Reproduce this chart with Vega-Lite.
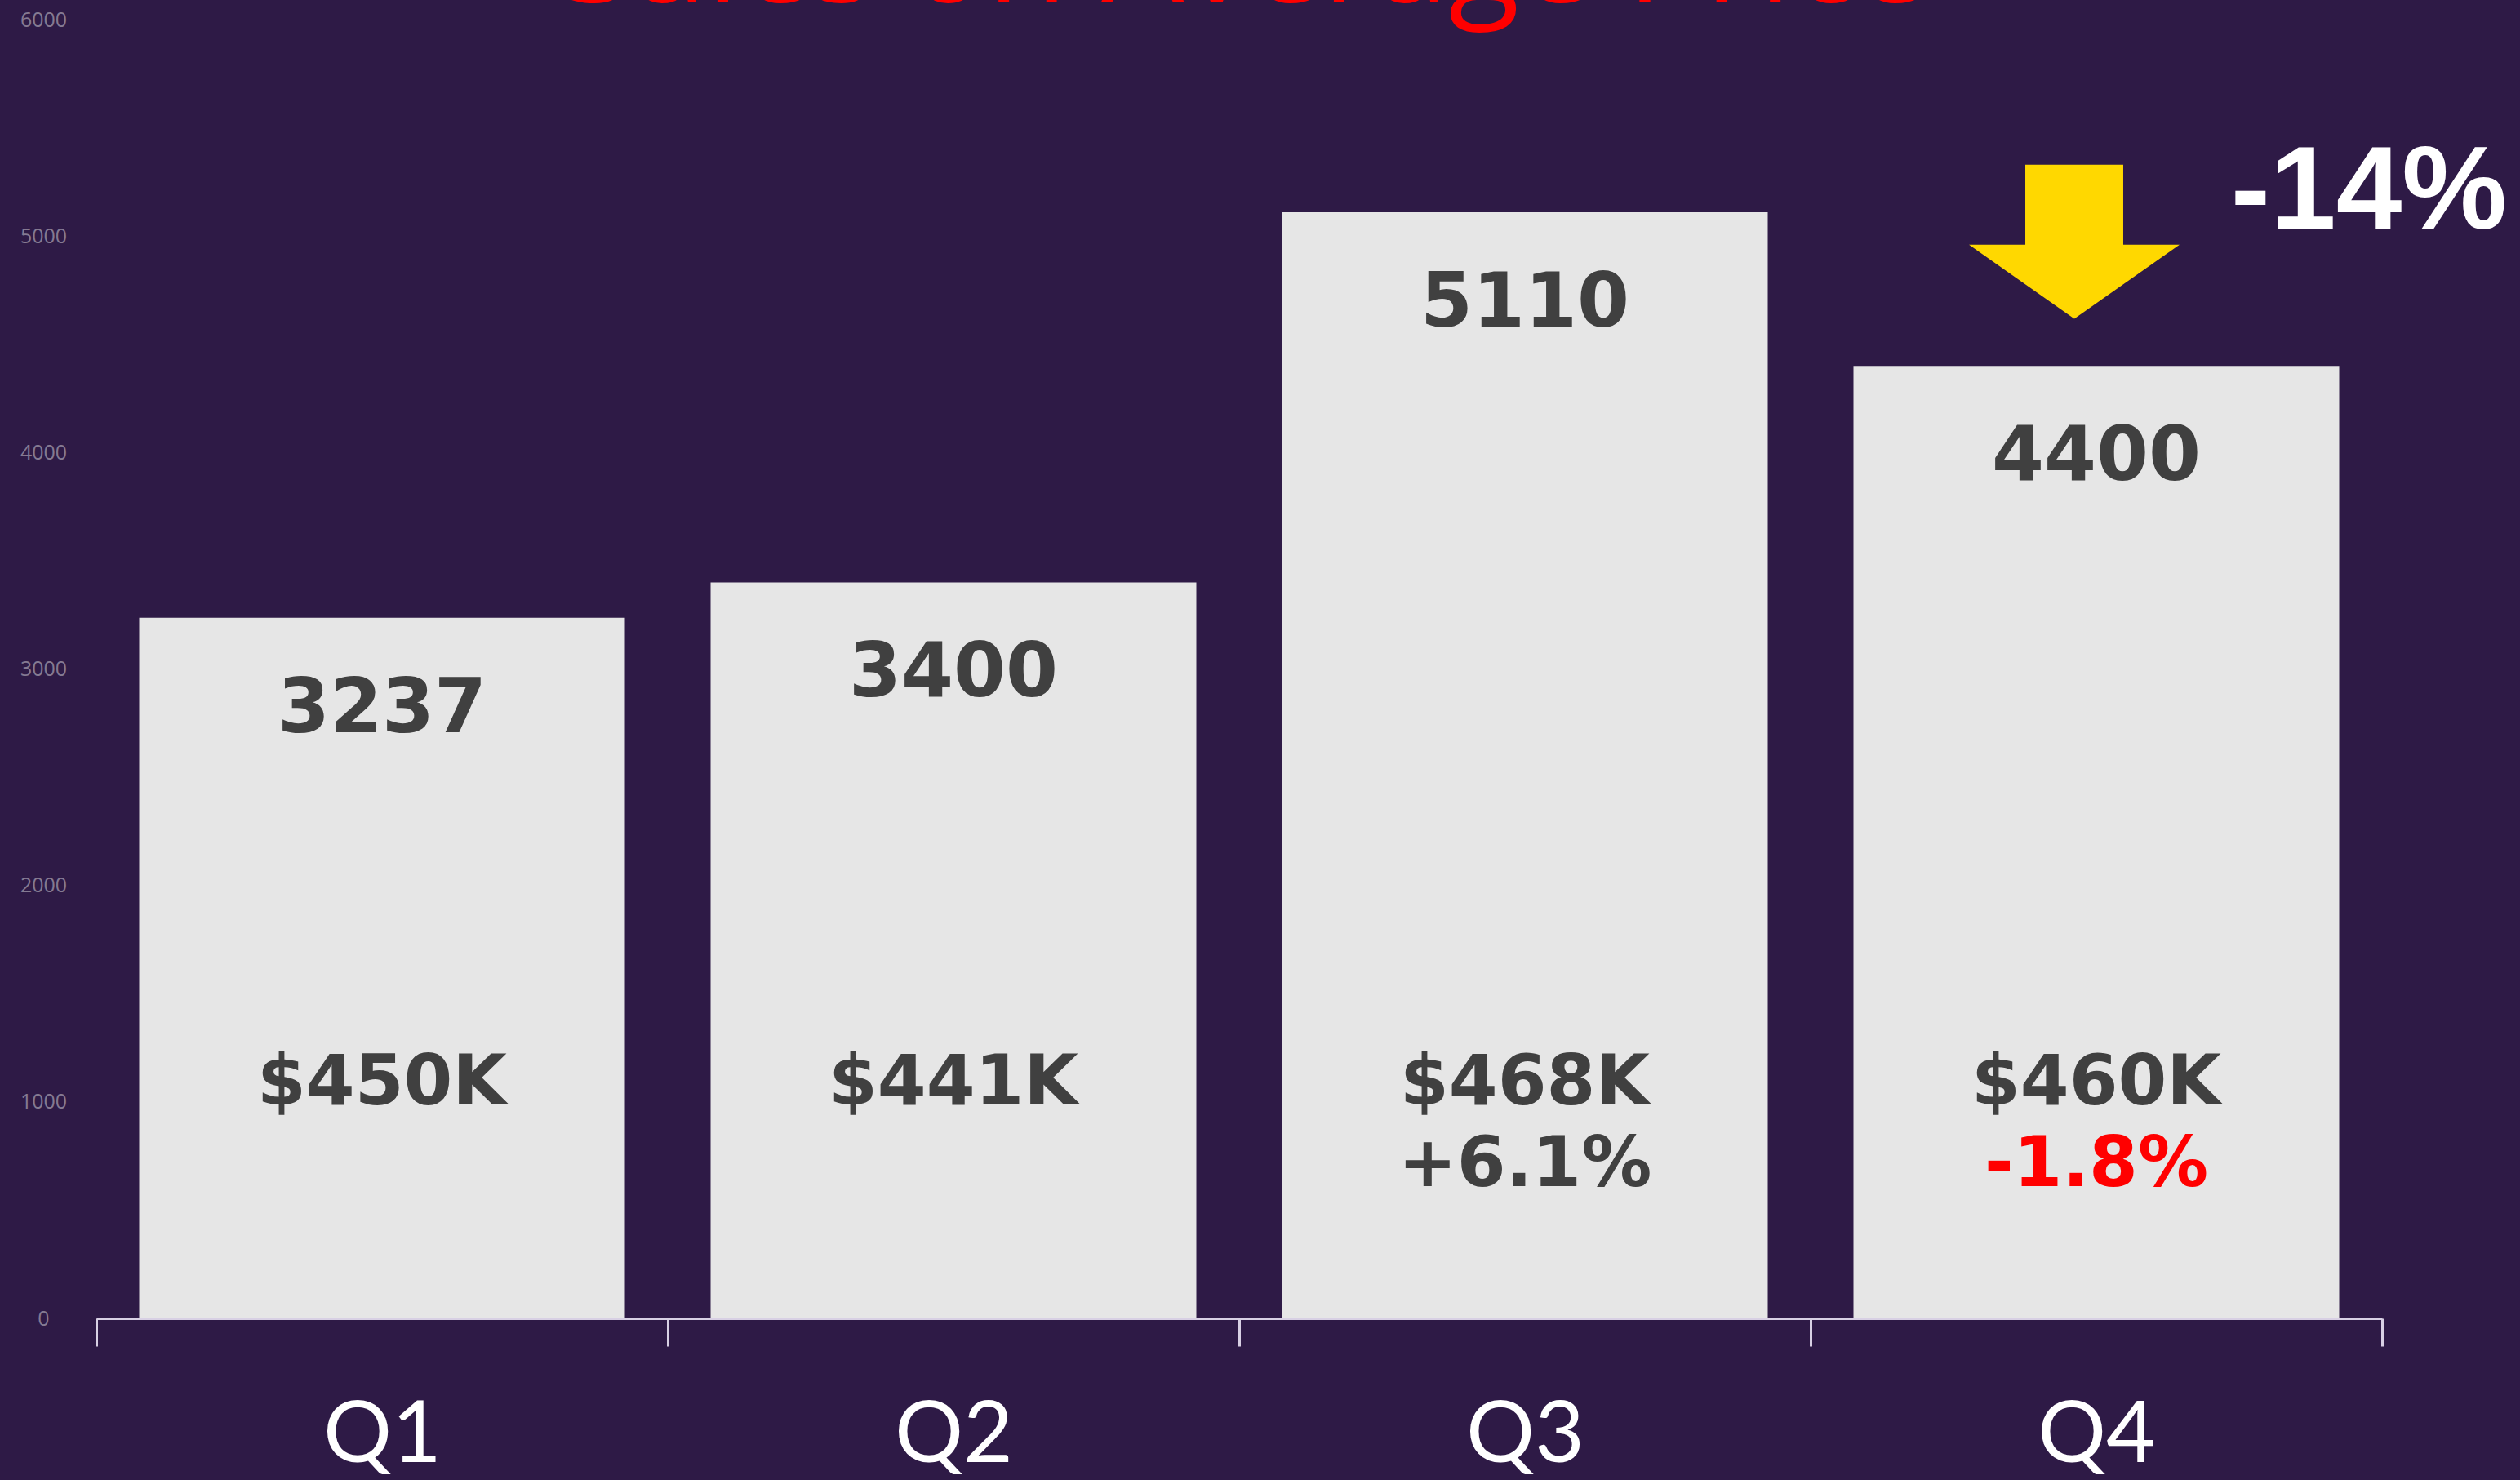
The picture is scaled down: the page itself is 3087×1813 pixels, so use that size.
{
  "$schema": "https://vega.github.io/schema/vega-lite/v6.json",
  "autosize": {"type": "none"},
  "width": 2800,
  "height": 1591,
  "padding": {"left": 118, "top": 24, "right": 169, "bottom": 198},
  "background": "#2e1a46",
  "config": {"view": {"stroke": null}},
  "data": {
    "values": [
      {"q": "Q1", "units": 3237, "rev": "$450K", "chg": null, "chg_label": ""},
      {"q": "Q2", "units": 3400, "rev": "$441K", "chg": null, "chg_label": ""},
      {"q": "Q3", "units": 5110, "rev": "$468K", "chg": 0.061, "chg_label": "+6.1%"},
      {"q": "Q4", "units": 4400, "rev": "$460K", "chg": -0.018, "chg_label": "-1.8%"}
    ]
  },
  "encoding": {
    "x": {
      "field": "q",
      "type": "nominal",
      "scale": {"paddingInner": 0, "paddingOuter": 0},
      "axis": {
        "title": null,
        "tickBand": "extent",
        "labelAngle": 0,
        "grid": false,
        "domainColor": "#d8d0e4",
        "domainWidth": 3,
        "tickColor": "#d8d0e4",
        "tickWidth": 3,
        "tickSize": 34,
        "labelColor": "#ffffff",
        "labelFont": "Lato",
        "labelFontSize": 105,
        "labelPadding": 58
      }
    }
  },
  "layer": [
    {
      "mark": {"type": "bar", "width": {"band": 0.85}, "color": "#e6e6e6"},
      "encoding": {
        "y": {
          "field": "units",
          "type": "quantitative",
          "scale": {"domain": [0, 6000], "nice": false},
          "axis": {
            "title": null,
            "values": [0, 1000, 2000, 3000, 4000, 5000, 6000],
            "format": "d",
            "domain": false,
            "ticks": false,
            "tickSize": 0,
            "grid": false,
            "labelColor": "#857a92",
            "labelFont": "Open Sans",
            "labelFontSize": 25,
            "labelAlign": "center",
            "labelBaseline": "middle",
            "labelPadding": 65
          }
        }
      }
    },
    {
      "transform": [{"filter": "datum.q == 'Q2'"}],
      "mark": {"type": "text", "text": "Sales on Average Price", "font": "Open Sans", "fontSize": 160, "color": "#ff0000", "baseline": "alphabetic", "align": "center", "xOffset": 357},
      "encoding": {
        "y": {"datum": 6083, "type": "quantitative"}
      }
    },
    {
      "mark": {"type": "text", "font": "DejaVu Sans", "fontWeight": "bold", "fontSize": 92, "color": "#404040", "dy": 112, "baseline": "middle"},
      "encoding": {
        "y": {"field": "units", "type": "quantitative"},
        "text": {"field": "units", "type": "quantitative", "format": "d"}
      }
    },
    {
      "mark": {"type": "text", "font": "DejaVu Sans", "fontWeight": "bold", "fontSize": 86, "color": "#404040", "baseline": "middle"},
      "encoding": {
        "y": {"datum": 1085, "type": "quantitative"},
        "text": {"field": "rev"}
      }
    },
    {
      "transform": [{"filter": "datum.chg != null"}],
      "mark": {"type": "text", "font": "DejaVu Sans", "fontWeight": "bold", "fontSize": 86, "dy": 100, "baseline": "middle"},
      "encoding": {
        "y": {"datum": 1085, "type": "quantitative"},
        "text": {"field": "chg_label"},
        "color": {"condition": {"test": "datum.chg < 0", "value": "#ff0000"}, "value": "#404040"}
      }
    },
    {
      "transform": [{"filter": "datum.q == 'Q4'"}],
      "mark": {
        "type": "point",
        "shape": "M-0.465,-0.73 L0.465,-0.73 L0.465,0.03 L1,0.03 L0,0.735 L-1,0.03 L-0.465,0.03 Z",
        "filled": true,
        "opacity": 1,
        "color": "#ffd800",
        "strokeWidth": 0,
        "size": 66564,
        "xOffset": -27
      },
      "encoding": {
        "y": {"datum": 4975, "type": "quantitative"}
      }
    },
    {
      "transform": [{"filter": "datum.q == 'Q4'"}],
      "mark": {"type": "text", "text": "-14%", "font": "Liberation Sans", "fontWeight": "bold", "fontSize": 145, "color": "#ffffff", "baseline": "middle", "xOffset": 334},
      "encoding": {
        "y": {"datum": 5200, "type": "quantitative"}
      }
    }
  ]
}
